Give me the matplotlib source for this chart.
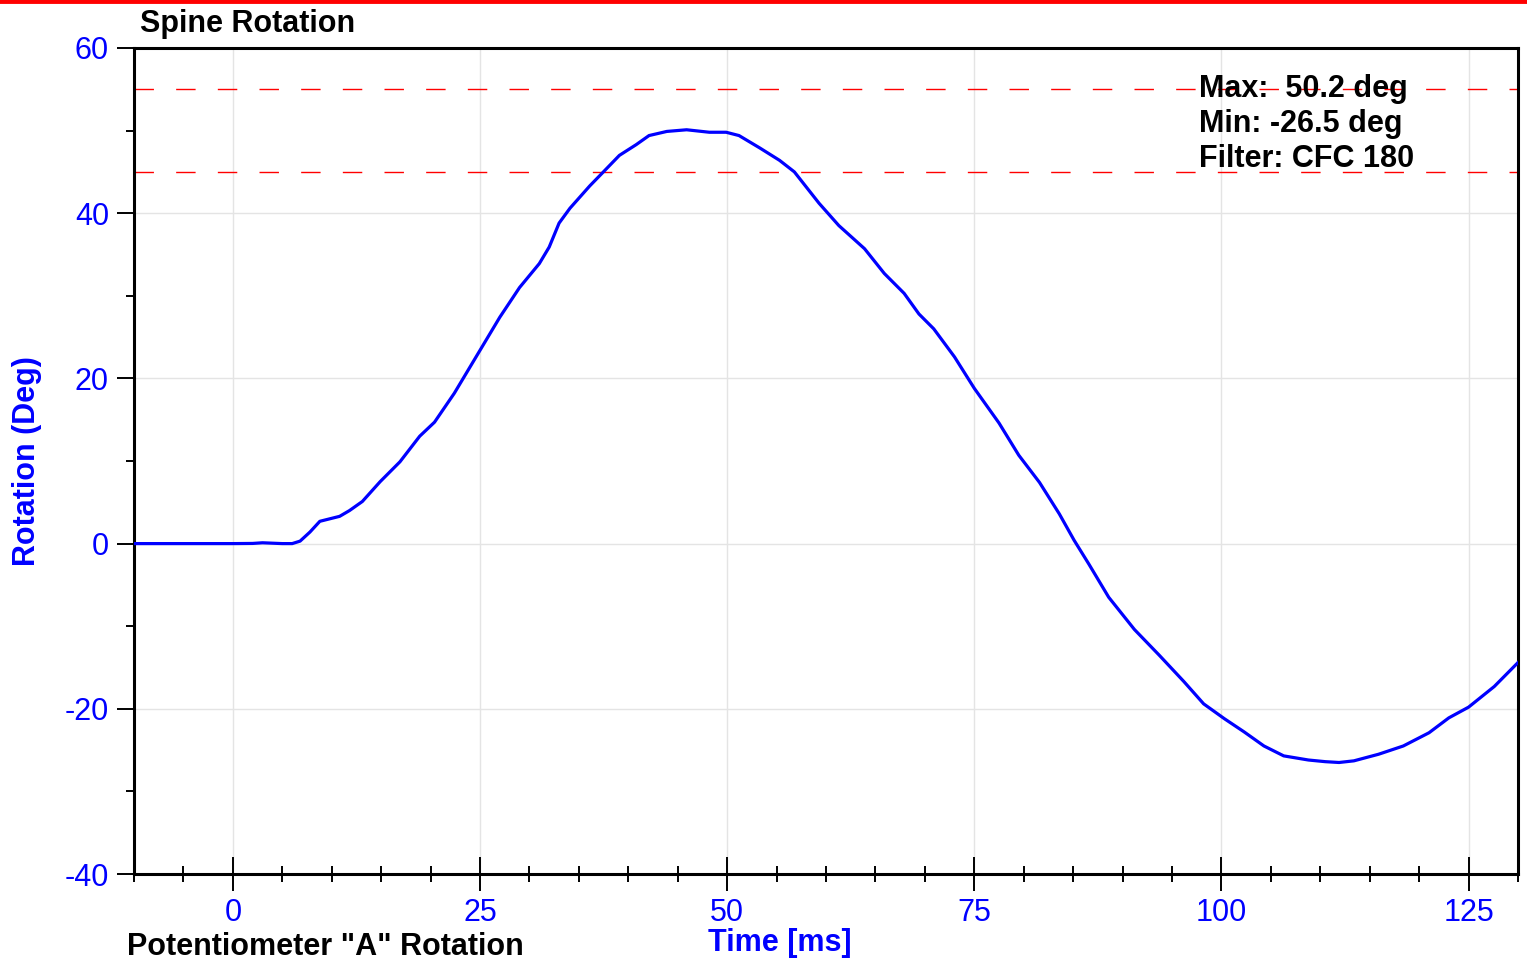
import matplotlib
matplotlib.use("Agg")
import matplotlib.pyplot as plt
from matplotlib.lines import Line2D
from matplotlib.ticker import MultipleLocator
from matplotlib import font_manager

plt.rcParams["font.family"] = ["Liberation Sans", "DejaVu Sans"]
plt.rcParams["axes.unicode_minus"] = False

BLUE = "#0000ff"

time_ms = [-10, -5, 0, 2, 3, 4, 5, 6.0, 6.8, 7.8, 8.8, 9.8, 10.8, 11.8, 13.1, 14.9, 16.9,
           18.9, 20.4, 22.4, 25.0, 27.0, 29.0, 31.0, 32.0, 33.0, 34.1, 36.1, 37.4, 39.1,
           40.8, 42.1, 43.9, 45.9, 48.2, 49.9, 51.2, 53.3, 55.3, 56.8, 59.3,
           61.3, 63.9, 65.9, 67.9, 69.4, 70.9, 73.0, 75.0, 77.5, 79.5, 81.6, 83.6, 85.1,
           86.6, 88.6, 91.2, 93.7, 96.2, 98.2, 100.3, 102.3, 104.3, 106.3, 108.8, 110.5,
           111.9, 113.4, 115.9, 118.4, 121.0, 123.0, 125.0, 127.6, 130.0]
rotation_deg = [0, 0, 0, 0.02, 0.1, 0.05, 0.0, 0.0, 0.3, 1.4, 2.7, 3.0, 3.3, 4.0, 5.1, 7.5, 9.9,
                13.0, 14.7, 18.2, 23.4, 27.4, 31.0, 33.9, 35.9, 38.8, 40.6, 43.3, 44.9, 47.0,
                48.3, 49.4, 49.9, 50.1, 49.8, 49.8, 49.4, 47.9, 46.4, 45.0, 41.2,
                38.5, 35.7, 32.7, 30.3, 27.8, 26.0, 22.6, 18.8, 14.6, 10.7, 7.4, 3.6, 0.4,
                -2.5, -6.5, -10.4, -13.5, -16.7, -19.4, -21.2, -22.8, -24.5, -25.7, -26.2,
                -26.4, -26.5, -26.3, -25.5, -24.5, -22.9, -21.1, -19.8, -17.3, -14.4]

limit_lines = [55, 45]
x_major = [0, 25, 50, 75, 100, 125]
y_grid = [-20, 0, 20, 40]
stats_text = ["Max:  50.2 deg", "Min: -26.5 deg", "Filter: CFC 180"]

installed = {f.name for f in font_manager.fontManager.ttflist}
narrow = "Liberation Sans Narrow" if "Liberation Sans Narrow" in installed else None

fig = plt.figure(figsize=(15.27, 9.6), dpi=100)
ax = fig.add_axes([134 / 1527, 1 - 874 / 960, (1518 - 134) / 1527, (874 - 48) / 960])

# red bar across the top of the page
fig.add_artist(Line2D([0, 1], [0.9985, 0.9985], transform=fig.transFigure,
                      color="red", lw=3.5))

ax.set_xlim(-10, 130)
ax.set_ylim(-40, 60)

for x in x_major:
    ax.axvline(x, color="#e4e4e4", lw=1, zorder=0)
for y in y_grid:
    ax.axhline(y, color="#e4e4e4", lw=1, zorder=0)

for y in limit_lines:
    ax.axhline(y, color="red", lw=1, dashes=(14, 16), zorder=1)

ax.plot(time_ms, rotation_deg, color=BLUE, lw=2.3, zorder=3, solid_joinstyle="round")

for i, s in enumerate(stats_text):
    fig.text(1199 / 1527, 1 - (89 + 35 * i) / 960, s, fontsize=22, fontweight="bold",
             ha="left", va="center", color="black", zorder=4)

ax.xaxis.set_major_locator(MultipleLocator(25))
ax.xaxis.set_minor_locator(MultipleLocator(5))
ax.yaxis.set_major_locator(MultipleLocator(20))
ax.yaxis.set_minor_locator(MultipleLocator(10))
ax.tick_params(axis="x", which="major", direction="inout", length=24, width=1.4,
               labelsize=22, labelcolor=BLUE, pad=5)
ax.tick_params(axis="x", which="minor", direction="inout", length=12, width=1.4)
ax.tick_params(axis="y", which="major", direction="out", length=12, width=1.4,
               labelsize=22, labelcolor=BLUE, pad=6)
ax.tick_params(axis="y", which="minor", direction="out", length=6, width=1.4)

for sp in ax.spines.values():
    sp.set_linewidth(2.2)

fig.text(140 / 1527, 1 - 24 / 960, "Spine Rotation", fontsize=22, fontweight="bold",
         ha="left", va="center")
if narrow:
    fig.text(780 / 1527, 1 - 943 / 960, "Time [ms]", fontsize=25, fontweight="bold",
             color=BLUE, ha="center", va="center", family=[narrow, "Liberation Sans"])
else:
    fig.text(780 / 1527, 1 - 943 / 960, "Time [ms]", fontsize=22, fontweight="bold",
             color=BLUE, ha="center", va="center")
fig.text(27 / 1527, 1 - 461 / 960, "Rotation (Deg)", fontsize=22, fontweight="bold",
         color=BLUE, ha="center", va="center", rotation=90)
fig.text(127 / 1527, 1 - 947 / 960, 'Potentiometer "A" Rotation', fontsize=22,
         fontweight="bold", ha="left", va="center")

fig.savefig("out.png", dpi=100)
